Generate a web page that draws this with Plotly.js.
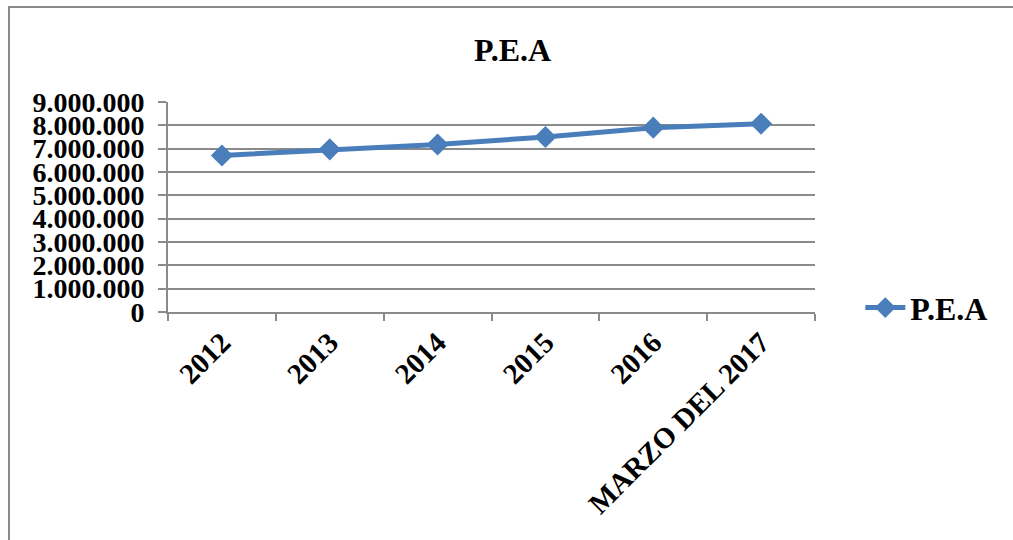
<!DOCTYPE html>
<html>
<head>
<meta charset="utf-8">
<script src="https://cdn.plot.ly/plotly-3.0.1.min.js"></script>
<style>
  html, body { margin: 0; padding: 0; background: #ffffff; }
  #wrap { position: relative; width: 1013px; height: 540px; overflow: hidden; }
  #frame { position: absolute; left: 8px; top: 6px; right: -4px; bottom: -4px;
           border-left: 2px solid #8a8a8a; border-top: 2px solid #8a8a8a; pointer-events: none; }
  #chart { position: absolute; left: 0; top: 0; width: 1013px; height: 540px; }
</style>
</head>
<body>
<div id="wrap">
  <div id="chart"></div>
  <div id="frame"></div>
</div>
<script>
// Población Económicamente Activa por año
const categories = ['2012', '2013', '2014', '2015', '2016', 'MARZO DEL 2017'];
const peaValues = [6710000, 6970000, 7180000, 7500000, 7900000, 8070000];
const seriesName = 'P.E.A';
const chartTitle = 'P.E.A';

const serif = '"Liberation Serif", "Times New Roman", serif';
const gridGrey = '#8a8a8a';

const trace = {
  type: 'scatter',
  mode: 'lines+markers',
  name: seriesName,
  x: categories,
  y: peaValues,
  line: { color: '#4a7ebb', width: 5 },
  marker: { symbol: 'diamond', size: 17, color: '#4a7ebb' }
};

const layout = {
  width: 1013,
  height: 540,
  margin: { l: 168, r: 198, t: 102, b: 228 },
  paper_bgcolor: '#ffffff',
  plot_bgcolor: '#ffffff',
  separators: ',.',
  font: { family: serif, color: '#000000' },
  title: {
    text: '<b>' + chartTitle + '</b>',
    font: { family: serif, size: 32, color: '#000000' },
    x: 0.506, xanchor: 'center',
    y: 0.908, yanchor: 'middle'
  },
  xaxis: {
    type: 'category',
    range: [-0.5, categories.length - 0.5],
    tickson: 'boundaries',
    ticks: 'outside',
    ticklen: 7,
    tickwidth: 2,
    tickcolor: gridGrey,
    tickangle: -45,
    tickfont: { family: serif, size: 29, color: '#000000', weight: 'bold' },
    showline: true,
    linecolor: gridGrey,
    linewidth: 2,
    showgrid: false,
    zeroline: false,
    fixedrange: true
  },
  yaxis: {
    range: [0, 9000000],
    dtick: 1000000,
    tick0: 0,
    tickformat: ',.0f',
    ticks: 'outside',
    ticklen: 8,
    tickwidth: 2,
    tickcolor: gridGrey,
    ticklabelstandoff: 8,
    tickfont: { family: serif, size: 28, color: '#000000', weight: 'bold' },
    showline: true,
    linecolor: gridGrey,
    linewidth: 2,
    showgrid: true,
    gridcolor: gridGrey,
    gridwidth: 2,
    zeroline: false,
    fixedrange: true
  },
  showlegend: true,
  legend: {
    x: 1.07, xanchor: 'left',
    y: 0.02, yanchor: 'middle',
    font: { family: serif, size: 32, color: '#000000', weight: 'bold' },
    bgcolor: 'rgba(0,0,0,0)',
    itemwidth: 40
  }
};

Plotly.newPlot('chart', [trace], layout, { staticPlot: true, displayModeBar: false });
</script>
</body>
</html>
